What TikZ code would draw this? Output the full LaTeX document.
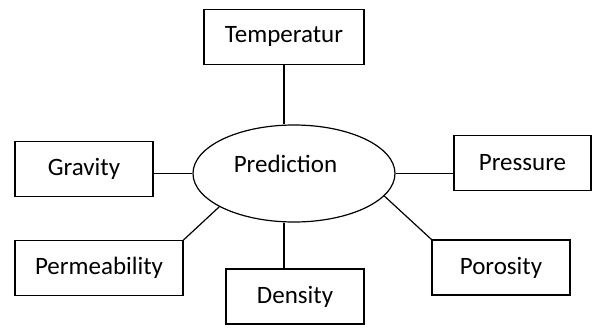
\documentclass[tikz,border=0pt]{standalone}
\usepackage{fontspec}
\setmainfont{Carlito}
\usetikzlibrary{shapes.geometric}
\begin{document}
\begin{tikzpicture}[x=1pt,y=-1pt,line width=1.2pt,
  every node/.style={font=\fontsize{25}{29}\selectfont,inner sep=0pt},
  factor/.style={draw,rectangle,minimum height=55,minimum width=138},
  hub/.style={draw,ellipse,minimum width=202,minimum height=97}]
  \useasboundingbox (0,0) rectangle (593,327);
  % central ellipse
  \node[hub,label={[shift={(-8.5pt,10pt)}]center:Prediction}] (pred) at (294,173.5) {};
  % factor boxes round it
  \node[factor,minimum width=160] (temp) at (284,36.7) {Temperatur};
  \node[factor] (grav) at (84,169) {Gravity};
  \node[factor,minimum width=137] (pres) at (522.5,163) {Pressure};
  \node[factor,minimum width=168] (perm) at (99,268) {Permeability};
  \node[factor] (dens) at (295,296.5) {Density};
  \node[factor] (poro) at (501,267.5) {Porosity};
  % connectors
  \draw (temp.south) -- (temp.south |- pred.north);
  \draw (grav.east |- pred.west) -- (pred.west);
  \draw (pred.east) -- (pred.east -| pres.west);
  \draw (perm.north east) -- (pred.204);
  \draw (temp.south |- pred.south) -- (temp.south |- dens.north);
  \draw (poro.north west) -- (pred.346);
\end{tikzpicture}
\end{document}
